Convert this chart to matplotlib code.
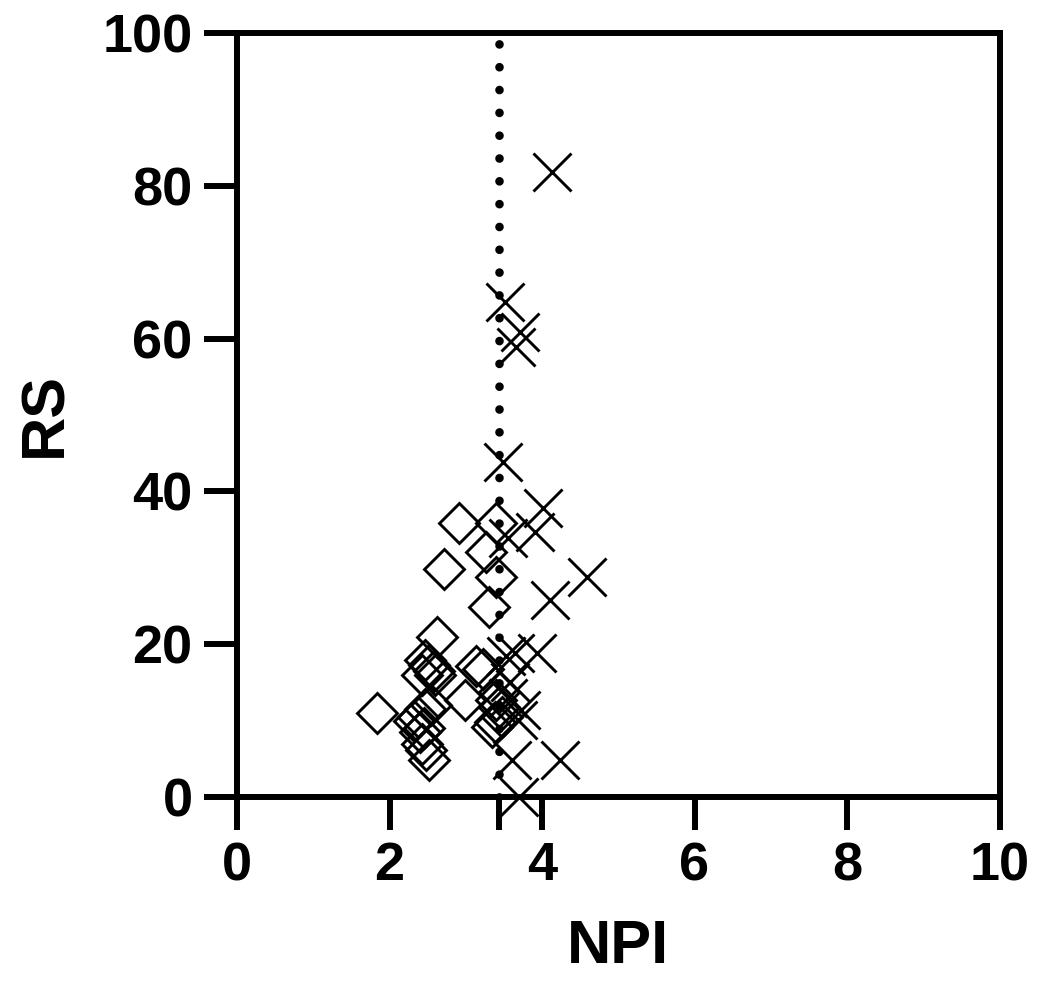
import matplotlib.pyplot as plt

plt.rcParams['font.family'] = ['Liberation Sans', 'DejaVu Sans']
plt.rcParams['font.weight'] = 'bold'

# group 1 (open diamonds)
dia_npi = [2.91, 3.40, 3.27, 2.71, 3.40, 3.31, 2.62, 2.46, 2.52, 2.58, 2.42, 2.60,
           2.55, 2.46, 2.38, 2.32, 2.45, 2.40, 2.42, 2.48, 2.52, 1.83,
           3.14, 3.23, 2.99, 3.43, 3.40, 3.43, 3.34, 3.48, 3.38]
dia_rs = [35.9, 35.9, 32.1, 29.8, 28.8, 24.9, 21.0, 17.9, 17.3, 16.5, 16.0, 16.0,
          12.0, 11.5, 10.5, 10.0, 9.0, 8.5, 7.0, 6.1, 4.8, 11.0,
          17.1, 16.8, 12.7, 13.8, 12.7, 11.8, 9.2, 10.5, 9.8]

# group 2 (crosses)
x_npi = [4.13, 3.51, 3.71, 3.66, 3.49, 4.01, 3.91, 3.56, 4.59, 4.10,
         3.93, 3.64, 3.53, 3.58, 3.73, 3.69, 3.60, 4.23, 3.70, 3.55]
x_rs = [81.8, 64.8, 60.9, 58.9, 43.9, 37.8, 34.7, 33.9, 28.8, 25.8,
        18.8, 18.8, 18.4, 15.0, 11.4, 10.1, 4.8, 4.8, 0.0, 13.0]

cutoff_npi = 3.43
cutoff_top = 100.0

fig = plt.figure(figsize=(10.5, 9.96), dpi=100)
ax = fig.add_axes([0.2257, 0.1998, 0.952 - 0.2257, 0.9669 - 0.1998])

# cut-off line, drawn as round dots
ax.plot([cutoff_npi, cutoff_npi], [0, cutoff_top], color='black', lw=6.2,
        linestyle=(0, (0.01, 2.64)), dash_capstyle='round', zorder=1)

ax.plot(dia_npi, dia_rs, linestyle='none', marker='D', markersize=20,
        markerfacecolor='none', markeredgecolor='black', markeredgewidth=2.1, zorder=2)
ax.plot(x_npi, x_rs, linestyle='none', marker='x', markersize=28,
        color='black', markeredgewidth=2.1, zorder=2, clip_on=False)

ax.set_xlim(0, 10)
ax.set_ylim(0, 100)
ax.set_xticks([0, 2, cutoff_npi, 4, 6, 8, 10])
ax.set_xticklabels(['0', '2', '', '4', '6', '8', '10'])
ax.set_yticks([0, 20, 40, 60, 80, 100])

for s in ax.spines.values():
    s.set_linewidth(4.3)
ax.tick_params(length=24, width=4.3, labelsize=39, pad=8)
ax.set_xlabel('NPI', fontsize=44, fontweight='bold', labelpad=20)
ax.set_ylabel('RS', fontsize=44, fontweight='bold', labelpad=20)

fig.savefig('out.png', dpi=100)
